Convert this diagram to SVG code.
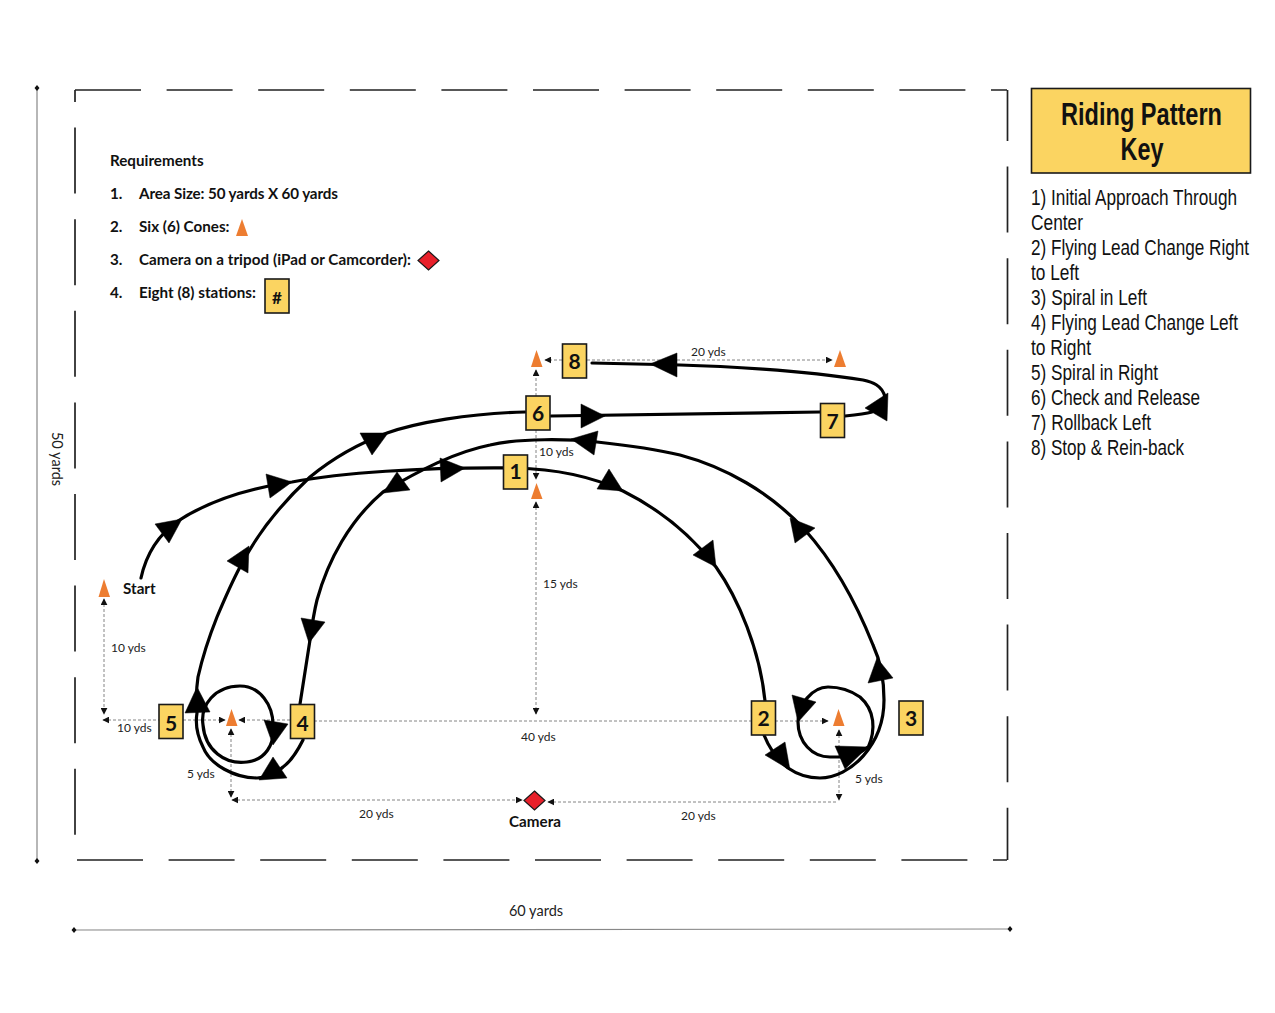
<svg xmlns="http://www.w3.org/2000/svg" width="1275" height="1013" viewBox="0 0 1275 1013">
<style>
.bd{fill:none;stroke:#222;stroke-width:1.7;stroke-dasharray:66 25.6}
.dim{fill:none;stroke:#888;stroke-width:1.2}
.dot{fill:#111}
.d{fill:none;stroke:#777;stroke-width:.9;stroke-dasharray:3 2}
.c{fill:none;stroke:#000;stroke-width:3.2;stroke-linecap:round}
.a{fill:#000;stroke:#000;stroke-width:.5}
.cone{fill:#ed7d31}
.st{fill:#fbd461;stroke:#1a1a1a;stroke-width:1.6}
.cam{fill:#e8202a;stroke:#1a1a1a;stroke-width:1.2}
.n{font:bold 21px Lato,"Liberation Sans",sans-serif;fill:#111;text-anchor:middle}
.t{font:12px Lato,"Open Sans",sans-serif;fill:#222}
.b{font:bold 15.200px Lato,"Open Sans",sans-serif;fill:#111}
.k{font:22px "Liberation Sans",Arial,sans-serif;fill:#111}
.h{font:bold 31px "Liberation Sans",Arial,sans-serif;fill:#111;text-anchor:middle}
</style>
<defs>
<marker id="m" viewBox="0 0 10 10" refX="9" refY="5" markerWidth="7" markerHeight="7" markerUnits="userSpaceOnUse" orient="auto-start-reverse"><path d="M0,0L10,5L0,10z" fill="#111"/></marker>
</defs>
<g id="field">
<path class="bd" d="M75,90H1007"/>
<path class="bd" d="M75,90V835" stroke-dashoffset="54"/>
<path class="bd" d="M1007.5,90V860" stroke-dashoffset="15"/>
<path class="bd" d="M77,860H1007"/>
<path class="dim" d="M37,88V861M73,930L1010,929"/>
<path class="dot" d="M37,85l2.5,3l-2.5,3l-2.5,-3zM37,858l2.5,3l-2.5,3l-2.5,-3zM74,927l2.5,3l-2.5,3l-2.5,-3zM1010,926l2.5,3l-2.5,3l-2.5,-3z"/>
<text class="t" style="font-size:14.5px" x="536" y="916" text-anchor="middle">60 yards</text>
<text class="t" style="font-size:14.5px" transform="translate(52,459) rotate(90)" text-anchor="middle">50 yards</text>
</g>
<g id="requirements">
<text class="b" x="110" y="166">Requirements</text>
<text class="b" x="110" y="199">1.</text><text class="b" x="139" y="199" textLength="199">Area Size: 50 yards X 60 yards</text>
<text class="b" x="110" y="232">2.</text><text class="b" x="139" y="232">Six (6) Cones:</text>
<text class="b" x="110" y="265">3.</text><text class="b" x="139" y="265" textLength="272">Camera on a tripod (iPad or Camcorder):</text>
<text class="b" x="110" y="298">4.</text><text class="b" x="139" y="298">Eight (8) stations:</text>
<path class="cone" d="M236,236H248L242,219z"/>
<path class="cam" d="M428.500,251L439,260.500L428.500,270L418,260.500z"/>
<rect class="st" x="265" y="279" width="24" height="34"/>
<text class="n" x="277" y="304" style="font-size:17px">#</text>
</g>
<g id="measures">
<path class="d" d="M104,599V714" marker-start="url(#m)" marker-end="url(#m)"/>
<path class="d" d="M103,720H159" marker-start="url(#m)"/>
<path class="d" d="M183,720H225" marker-end="url(#m)"/>
<path class="d" d="M290,720H239" marker-end="url(#m)"/>
<path class="d" d="M314,721H751"/>
<path class="d" d="M775,721H828" marker-end="url(#m)"/>
<path class="d" d="M231,729V797" marker-start="url(#m)" marker-end="url(#m)"/>
<path class="d" d="M232,800H522" marker-start="url(#m)" marker-end="url(#m)"/>
<path class="d" d="M548,802H836" marker-start="url(#m)"/>
<path class="d" d="M839,730V800" marker-start="url(#m)" marker-end="url(#m)"/>
<path class="d" d="M536,396V370" marker-end="url(#m)"/>
<path class="d" d="M536,430V479" marker-end="url(#m)"/>
<path class="d" d="M536,502V714" marker-start="url(#m)" marker-end="url(#m)"/>
<path class="d" d="M562,360H545" marker-end="url(#m)"/>
<path class="d" d="M587,360H832" marker-end="url(#m)"/>
<text class="t" x="691" y="356">20 yds</text>
<text class="t" x="539" y="456">10 yds</text>
<text class="t" x="543" y="588">15 yds</text>
<text class="t" x="111" y="652">10 yds</text>
<text class="t" x="117" y="732">10 yds</text>
<text class="t" x="187" y="778">5 yds</text>
<text class="t" x="521" y="741">40 yds</text>
<text class="t" x="359" y="818">20 yds</text>
<text class="t" x="681" y="820">20 yds</text>
<text class="t" x="855" y="783">5 yds</text>
</g>
<g id="connectors">
<path class="c" d="M141,578C146,555 158,535 178,521C210,500 250,488 292,482C340,473 420,467 515,468C560,469 595,478 623,491C665,512 695,540 716,567C738,598 760,650 765,701"/>
<path class="c" d="M764,735C770,750 778,760 788,768C798,775 808,778 820,778C850,778 884,745 884,700C884,680 880,660 873,645C855,600 832,560 805,530C770,492 725,467 680,455C655,449 625,445 597,442C570,439 520,438 490,445C455,452 420,470 383,492C350,520 328,560 317,600C314,612 312,625 310,640L300,704"/>
<path class="c" d="M303,740C297,752 290,762 283,767C275,775 265,778 257,778C235,778 210,765 203,747C197,735 195,725 197,713C196,700 196,690 198,677C203,655 209,637 217,617C225,598 232,582 240,567C258,532 282,503 310,477C333,458 360,443 387,433C415,423 470,413 525,412"/>
<path class="c" d="M551,416L820,412"/>
<path class="c" d="M203,725C200,705 215,686 240,686C260,686 273,705 273,725C275,745 265,760 247,762C225,765 205,750 203,725z"/>
<path class="c" d="M868,748C876,730 875,710 860,697C850,690 838,687 828,687C812,687 798,705 798,722C798,742 812,757 830,757L845,757C855,755 862,752 868,747"/>
<path class="c" d="M845,416C855,415 865,414 872,412"/>
<path class="c" d="M885,397C882,385 872,382 863,380C800,370 720,366 680,365L592,363"/>
<path class="a" d="M155,524L182,519L169,543z"/>
<path class="a" d="M266,474L292,482L270,498z"/>
<path class="a" d="M440,458L465,468L441,482z"/>
<path class="a" d="M609,469L623,491L597,489z"/>
<path class="a" d="M713,540L716,567L693,555z"/>
<path class="a" d="M785,742L790,770L765,755z"/>
<path class="a" d="M835,746L868,747L845,769z"/>
<path class="a" d="M792,695L816,702L798,722z"/>
<path class="a" d="M877,658L893,678L868,683z"/>
<path class="a" d="M790,518L815,528L795,543z"/>
<path class="a" d="M598,431L594,455L571,439z"/>
<path class="a" d="M397,472L410,490L383,493z"/>
<path class="a" d="M301,618L325,622L309,643z"/>
<path class="a" d="M273,757L287,778L259,780z"/>
<path class="a" d="M185,713L210,712L197,687z"/>
<path class="a" d="M264,720L288,724L273,745z"/>
<path class="a" d="M249,546L248,573L227,561z"/>
<path class="a" d="M360,433L388,433L372,455z"/>
<path class="a" d="M581,404L605,416L581,428z"/>
<path class="a" d="M888,393L887,421L865,408z"/>
<path class="a" d="M650,364L677,353L677,377z"/>
</g>
<g id="cones">
<path class="cone" d="M98.500,597H110L104,579z"/>
<path class="cone" d="M226,726H237.500L231.500,709z"/>
<path class="cone" d="M833,726H844.500L838.500,709z"/>
<path class="cone" d="M531,367H542.500L536.500,350z"/>
<path class="cone" d="M834,367H846L840,350z"/>
<path class="cone" d="M531,499H542.500L536.500,483z"/>
</g>
<g id="camera">
<path class="cam" d="M534.500,791L545,800.500L534.500,810L524,800.500z"/>
<text class="b" x="535" y="827" text-anchor="middle">Camera</text>
</g>
<text class="b" x="123" y="594">Start</text>
<g id="station-1"><rect class="st" x="503.500" y="455" width="24" height="34"/><text class="n" x="515.500" y="479">1</text></g>
<g id="station-2"><rect class="st" x="751.500" y="701" width="24" height="34"/><text class="n" x="763.500" y="726">2</text></g>
<g id="station-3"><rect class="st" x="899" y="701" width="24" height="34"/><text class="n" x="911" y="726">3</text></g>
<g id="station-4"><rect class="st" x="290.500" y="704.500" width="24" height="34"/><text class="n" x="302.500" y="731">4</text></g>
<g id="station-5"><rect class="st" x="159" y="704.500" width="24" height="34"/><text class="n" x="171" y="731">5</text></g>
<g id="station-6"><rect class="st" x="526" y="396" width="24" height="34"/><text class="n" x="538" y="421">6</text></g>
<g id="station-7"><rect class="st" x="820.500" y="403.500" width="24" height="34"/><text class="n" x="832.500" y="429">7</text></g>
<g id="station-8"><rect class="st" x="562.500" y="344" width="24" height="34"/><text class="n" x="574.500" y="369">8</text></g>
<g id="key">
<rect x="1031.500" y="88.500" width="219" height="84.500" fill="#fbd461" stroke="#1a1a1a" stroke-width="1.6"/>
<text class="h" x="1141.500" y="125" textLength="161" lengthAdjust="spacingAndGlyphs">Riding Pattern</text>
<text class="h" x="1142" y="160" textLength="43" lengthAdjust="spacingAndGlyphs">Key</text>
<g transform="translate(1031,0) scale(.8,1)">
<text class="k" x="0" y="205" textLength="257.500" lengthAdjust="spacingAndGlyphs">1) Initial Approach Through</text>
<text class="k" x="0" y="230" textLength="65" lengthAdjust="spacingAndGlyphs">Center</text>
<text class="k" x="0" y="255" textLength="272.500" lengthAdjust="spacingAndGlyphs">2) Flying Lead Change Right</text>
<text class="k" x="0" y="280" textLength="60" lengthAdjust="spacingAndGlyphs">to Left</text>
<text class="k" x="0" y="305" textLength="145" lengthAdjust="spacingAndGlyphs">3) Spiral in Left</text>
<text class="k" x="0" y="330" textLength="258.750" lengthAdjust="spacingAndGlyphs">4) Flying Lead Change Left</text>
<text class="k" x="0" y="355" textLength="75" lengthAdjust="spacingAndGlyphs">to Right</text>
<text class="k" x="0" y="380" textLength="158.750" lengthAdjust="spacingAndGlyphs">5) Spiral in Right</text>
<text class="k" x="0" y="405" textLength="211.250" lengthAdjust="spacingAndGlyphs">6) Check and Release</text>
<text class="k" x="0" y="430" textLength="150" lengthAdjust="spacingAndGlyphs">7) Rollback Left</text>
<text class="k" x="0" y="455" textLength="191.250" lengthAdjust="spacingAndGlyphs">8) Stop &amp; Rein-back</text>
</g>
</g>
</svg>
